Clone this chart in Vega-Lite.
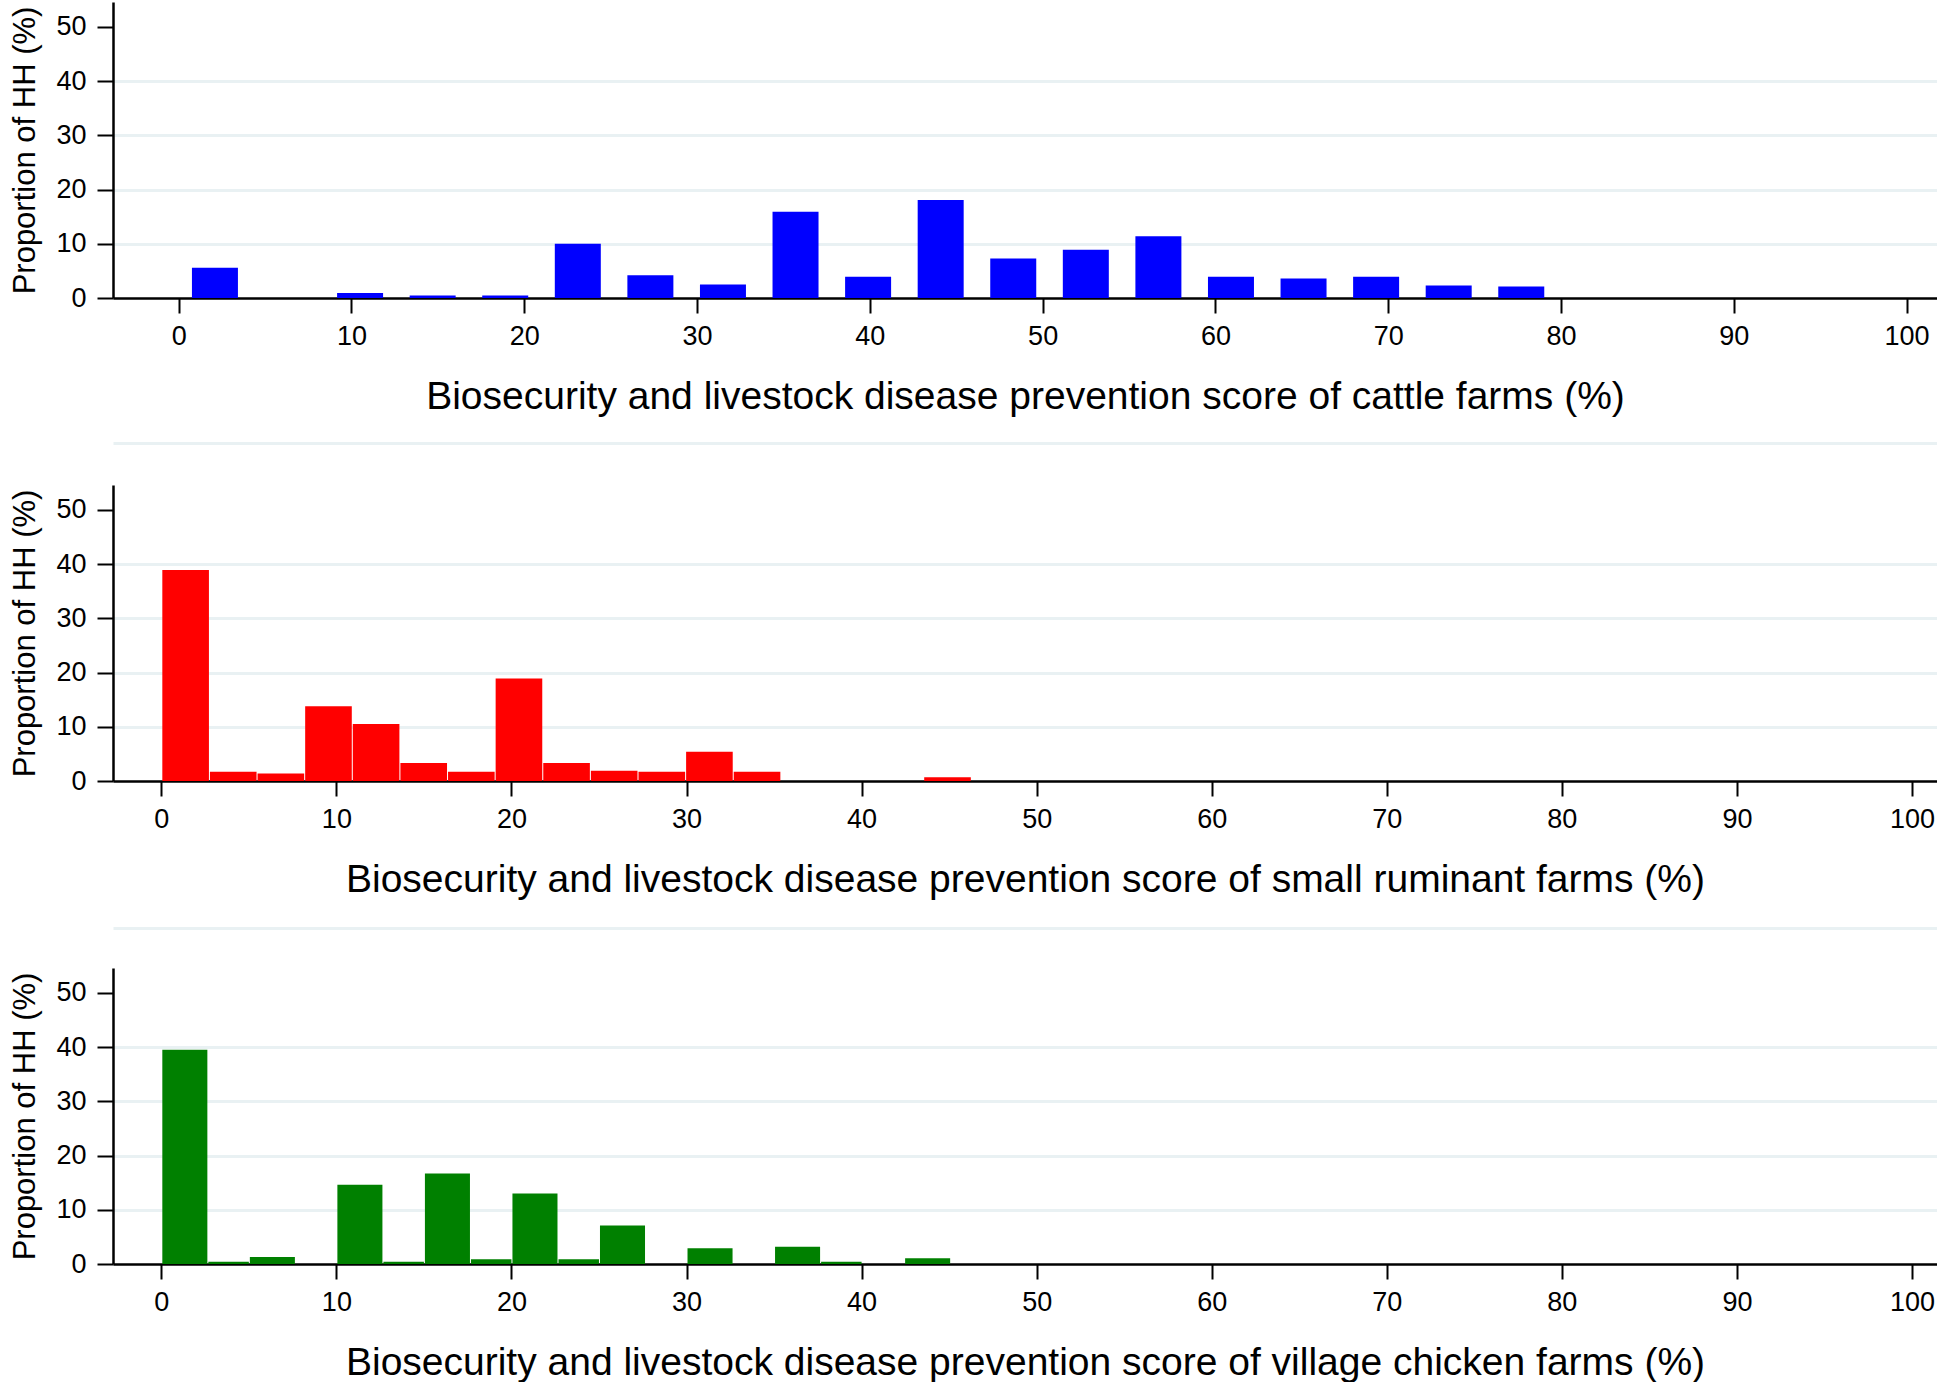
{
  "$schema": "https://vega.github.io/schema/vega-lite/v6.json",
  "padding": {"left": 9, "top": 2, "right": 0, "bottom": 0},
  "spacing": 187,
  "bounds": "flush",
  "config": {
    "view": {"stroke": null},
    "font": "Liberation Sans",
    "axisX": {
      "domainColor": "black", "domainWidth": 2.5,
      "tickColor": "black", "tickWidth": 2, "tickSize": 15,
      "labelFontSize": 27, "labelColor": "black", "labelPadding": 10, "labelFlush": false,
      "titleFontSize": 39, "titleFontWeight": "normal", "titleColor": "black", "titlePadding": 28,
      "grid": false, "zindex": 1
    },
    "axisY": {
      "domainColor": "black", "domainWidth": 2.5,
      "tickColor": "black", "tickWidth": 2, "tickSize": 16,
      "labelFontSize": 27, "labelColor": "black", "labelPadding": 11,
      "titleFontSize": 31, "titleFontWeight": "normal", "titleColor": "black", "titlePadding": 14,
      "gridWidth": 3
    }
  },
  "datasets": {
    "cattle": [
      {"score": 2.1, "pct": 5.6}, {"score": 10.5, "pct": 0.9}, {"score": 14.7, "pct": 0.45},
      {"score": 18.9, "pct": 0.45}, {"score": 23.1, "pct": 10.0}, {"score": 27.3, "pct": 4.2},
      {"score": 31.5, "pct": 2.5}, {"score": 35.7, "pct": 15.9}, {"score": 39.9, "pct": 3.9},
      {"score": 44.1, "pct": 18.1}, {"score": 48.3, "pct": 7.3}, {"score": 52.5, "pct": 8.9},
      {"score": 56.7, "pct": 11.4}, {"score": 60.9, "pct": 3.9}, {"score": 65.1, "pct": 3.6},
      {"score": 69.3, "pct": 3.9}, {"score": 73.5, "pct": 2.3}, {"score": 77.7, "pct": 2.1}
    ],
    "ruminant": [
      {"start": 0, "end": 2.72, "pct": 38.9}, {"start": 2.72, "end": 5.44, "pct": 1.7},
      {"start": 5.44, "end": 8.16, "pct": 1.4}, {"start": 8.16, "end": 10.88, "pct": 13.8},
      {"start": 10.88, "end": 13.6, "pct": 10.5}, {"start": 13.6, "end": 16.32, "pct": 3.3},
      {"start": 16.32, "end": 19.04, "pct": 1.7}, {"start": 19.04, "end": 21.76, "pct": 18.9},
      {"start": 21.76, "end": 24.48, "pct": 3.3}, {"start": 24.48, "end": 27.2, "pct": 1.9},
      {"start": 27.2, "end": 29.92, "pct": 1.7}, {"start": 29.92, "end": 32.64, "pct": 5.4},
      {"start": 32.64, "end": 35.36, "pct": 1.7}, {"start": 43.52, "end": 46.24, "pct": 0.7}
    ],
    "chicken": [
      {"start": 0, "end": 2.63, "pct": 39.5}, {"start": 2.63, "end": 5, "pct": 0.4},
      {"start": 5, "end": 7.63, "pct": 1.3}, {"start": 10, "end": 12.63, "pct": 14.6},
      {"start": 12.63, "end": 15, "pct": 0.4}, {"start": 15, "end": 17.63, "pct": 16.7},
      {"start": 17.63, "end": 20, "pct": 0.86}, {"start": 20, "end": 22.63, "pct": 13.0},
      {"start": 22.63, "end": 25, "pct": 0.86}, {"start": 25, "end": 27.63, "pct": 7.1},
      {"start": 30, "end": 32.63, "pct": 2.9}, {"start": 35, "end": 37.63, "pct": 3.2},
      {"start": 37.63, "end": 40, "pct": 0.43}, {"start": 42.43, "end": 45.06, "pct": 1.05}
    ]
  },
  "vconcat": [
    {
      "width": 1824, "height": 296,
      "data": {"name": "cattle"},
      "mark": {"type": "bar", "color": "#0000FF", "size": 46},
      "encoding": {
        "x": {"field": "score", "type": "quantitative",
              "scale": {"domain": [-3.51, 101.47], "nice": false, "zero": false},
              "axis": {"title": "Biosecurity and livestock disease prevention score of cattle farms (%)",
                       "values": [0, 10, 20, 30, 40, 50, 60, 70, 80, 90, 100]}},
        "y": {"field": "pct", "type": "quantitative",
              "scale": {"domain": [0, 54.6], "nice": false},
              "axis": {"title": "Proportion of HH (%)", "grid": true, "zindex": 0,
                       "values": [0, 10, 20, 30, 40, 50],
                       "gridColor": {"condition": {"test": "datum.value == 0 || datum.value == 50", "value": "transparent"}, "value": "#E9F1F3"}}}
      }
    },
    {
      "width": 1824, "height": 296,
      "data": {"name": "ruminant"},
      "resolve": {"axis": {"x": "independent"}},
      "layer": [
        {
          "mark": {"type": "bar", "color": "#FF0000", "binSpacing": 1},
          "encoding": {
            "x": {"field": "start", "type": "quantitative", "bin": "binned",
                  "scale": {"domain": [-2.76, 101.43], "nice": false, "zero": false},
                  "axis": {"title": "Biosecurity and livestock disease prevention score of small ruminant farms (%)",
                           "values": [0, 10, 20, 30, 40, 50, 60, 70, 80, 90, 100]}},
            "x2": {"field": "end"},
            "y": {"field": "pct", "type": "quantitative",
                  "scale": {"domain": [0, 54.6], "nice": false},
                  "axis": {"title": "Proportion of HH (%)", "grid": true, "zindex": 0,
                           "values": [0, 10, 20, 30, 40, 50],
                           "gridColor": {"condition": {"test": "datum.value == 0 || datum.value == 50", "value": "transparent"}, "value": "#E9F1F3"}}}
          }
        },
        {
          "mark": {"type": "tick", "opacity": 0},
          "encoding": {
            "x": {"field": "start", "type": "quantitative",
                  "axis": {"orient": "top", "offset": 42, "labels": false, "ticks": false, "title": null,
                           "domainColor": "#E9F1F3", "domainWidth": 3, "zindex": 0}}
          }
        }
      ]
    },
    {
      "width": 1824, "height": 296,
      "data": {"name": "chicken"},
      "resolve": {"axis": {"x": "independent"}},
      "layer": [
        {
          "mark": {"type": "bar", "color": "#008000", "binSpacing": 1},
          "encoding": {
            "x": {"field": "start", "type": "quantitative", "bin": "binned",
                  "scale": {"domain": [-2.76, 101.43], "nice": false, "zero": false},
                  "axis": {"title": "Biosecurity and livestock disease prevention score of village chicken farms (%)",
                           "values": [0, 10, 20, 30, 40, 50, 60, 70, 80, 90, 100]}},
            "x2": {"field": "end"},
            "y": {"field": "pct", "type": "quantitative",
                  "scale": {"domain": [0, 54.6], "nice": false},
                  "axis": {"title": "Proportion of HH (%)", "grid": true, "zindex": 0,
                           "values": [0, 10, 20, 30, 40, 50],
                           "gridColor": {"condition": {"test": "datum.value == 0 || datum.value == 50", "value": "transparent"}, "value": "#E9F1F3"}}}
          }
        },
        {
          "mark": {"type": "tick", "opacity": 0},
          "encoding": {
            "x": {"field": "start", "type": "quantitative",
                  "axis": {"orient": "top", "offset": 40, "labels": false, "ticks": false, "title": null,
                           "domainColor": "#E9F1F3", "domainWidth": 3, "zindex": 0}}
          }
        }
      ]
    }
  ]
}
